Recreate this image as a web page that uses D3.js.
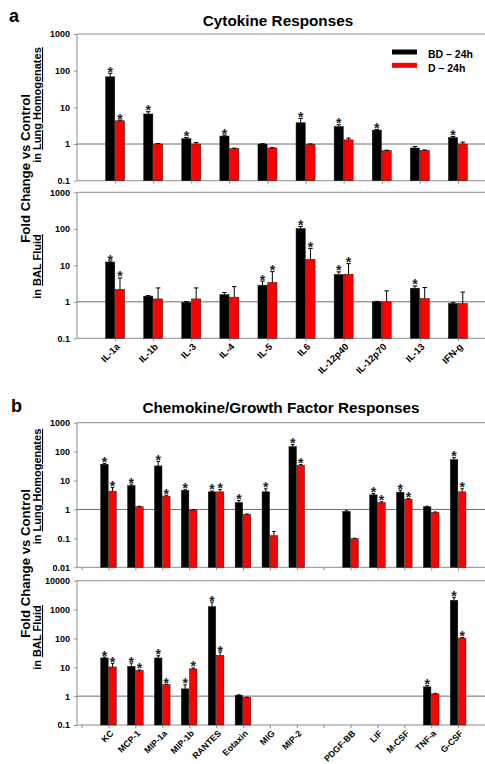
<!DOCTYPE html>
<html>
<head>
<meta charset="utf-8">
<script src="https://cdn.jsdelivr.net/npm/d3@7"></script>
<style>
  body { margin: 0; background: #fff; }
  svg { font-family: "Liberation Sans", Arial, sans-serif; }
</style>
</head>
<body>
<svg id="fig" width="485" height="764"></svg>
<script>
// %%%%%%%%%%%%%%%%%%%%
// % Data             %
// %%%%%%%%%%%%%%%%%%%%

var legendLabels = ["BD \u2013 24h", "D \u2013 24h"];

// panel a : cytokines
var cytokines = ["IL-1a", "IL-1b", "IL-3", "IL-4", "IL-5", "IL6", "IL-12p40", "IL-12p70", "IL-13", "IFN-g"];
var cytoLungBD    = [68, 6.6, 1.4, 1.65, 1.0, 3.8, 3.0, 2.4, 0.78, 1.5];
var cytoLungBDse  = [17, 1.0, 0.1, 0.1, 0.02, 1.2, 0.35, 0.1, 0.07, 0.1];
var cytoLungD     = [4.3, 1.0, 1.0, 0.75, 0.78, 0.98, 1.3, 0.66, 0.67, 1.0];
var cytoLungDse   = [0.2, 0.03, 0.1, 0.02, 0.02, 0.03, 0.15, 0.02, 0.02, 0.13];
var cytoLungBDsig = [1, 1, 1, 1, 0, 1, 1, 1, 0, 1];
var cytoLungDsig  = [1, 0, 0, 0, 0, 0, 0, 0, 0, 0];

var cytoBalBD    = [12.3, 1.43, 0.97, 1.58, 2.85, 102, 5.6, 1.0, 2.36, 0.9];
var cytoBalBDse  = [0.8, 0.05, 0.05, 0.22, 0.85, 14, 1.0, 0.03, 0.35, 0.05];
var cytoBalD     = [2.2, 1.2, 1.2, 1.34, 3.4, 14.6, 5.7, 1.0, 1.23, 0.9];
var cytoBalDse   = [2.3, 1.2, 1.2, 1.26, 3.3, 14.4, 5.4, 1.0, 1.23, 0.94];
var cytoBalBDsig = [1, 0, 0, 0, 1, 1, 1, 0, 1, 0];
var cytoBalDsig  = [1, 0, 0, 0, 1, 1, 1, 0, 0, 0];

// panel b : chemokines / growth factors ("" = empty slot on the axis)
var chemokines = ["KC", "MCP-1", "MIP-1a", "MIP-1b", "RANTES", "Eotaxin", "MIG", "MIP-2", "", "PDGF-BB", "LIF", "M-CSF", "TNF-a", "G-CSF"];
var chemoLungBD    = [36.6, 6.7, 32, 4.6, 4.07, 1.74, 4.07, 148, null, 0.85, 3.2, 3.96, 1.24, 53];
var chemoLungBDse  = [2, 0.8, 14, 0.2, 0.3, 0.3, 1.1, 26, null, 0.05, 0.35, 0.65, 0.05, 9];
var chemoLungD     = [4.3, 1.24, 2.9, 0.95, 4.07, 0.67, 0.124, 33.8, null, 0.098, 1.74, 2.27, 0.79, 4.07];
var chemoLungDse   = [1.4, 0.05, 0.2, 0.03, 0.8, 0.03, 0.05, 2, null, 0.003, 0.1, 0.1, 0.03, 1.1];
var chemoLungBDsig = [1, 1, 1, 1, 1, 1, 1, 1, 0, 0, 1, 1, 0, 1];
var chemoLungDsig  = [1, 0, 1, 0, 1, 0, 0, 1, 0, 0, 1, 1, 0, 1];

var chemoBalBD    = [21, 10.8, 21, 1.79, 1260, 1.08, null, null, null, null, null, null, 2.1, 2100];
var chemoBalBDse  = [1.5, 3.2, 4, 0.67, 560, 0.03, null, null, null, null, null, null, 0.25, 550];
var chemoBalD     = [10.3, 7.7, 2.5, 8.8, 25.9, 0.9, null, null, null, null, null, null, 1.2, 103];
var chemoBalDse   = [3.4, 0.4, 0.1, 0.7, 7.8, 0.02, null, null, null, null, null, null, 0.05, 4];
var chemoBalBDsig = [1, 1, 1, 1, 1, 0, 0, 0, 0, 0, 0, 0, 1, 1];
var chemoBalDsig  = [1, 1, 1, 1, 1, 0, 0, 0, 0, 0, 0, 0, 0, 1];

// %%%%%%%%%%%%%%%%%%%%
// % Setup            %
// %%%%%%%%%%%%%%%%%%%%

var svg = d3.select("#fig");
var width = +svg.attr("width");
var frameGrey = "#8d8d8d";
var colors = ["#000000", "#ff0000"];

function drawPanel(cfg) {
    var g = svg.append("g");
    var x = cfg.x, y = cfg.y;
    var yBot = y.range()[0], yTop = y.range()[1];

    // frame: top, bottom, left
    g.append("line").attr("x1", cfg.axisX).attr("x2", width).attr("y1", yTop).attr("y2", yTop)
        .attr("stroke", frameGrey);
    g.append("line").attr("x1", cfg.axisX).attr("x2", width).attr("y1", yBot).attr("y2", yBot)
        .attr("stroke", frameGrey);
    g.append("line").attr("x1", cfg.axisX).attr("x2", cfg.axisX).attr("y1", yTop).attr("y2", yBot)
        .attr("stroke", frameGrey);

    // y axis
    var yAxis = g.append("g")
        .attr("transform", "translate(" + cfg.axisX + ",0)")
        .call(d3.axisLeft(y).tickValues(cfg.yTicks).tickFormat(d3.format("~g")).tickSize(3).tickPadding(4));
    yAxis.select(".domain").remove();
    yAxis.selectAll("line").attr("stroke", frameGrey);
    yAxis.attr("font-family", null).attr("font-size", 9).attr("font-weight", "bold");

    // x ticks (and labels for the lower panel)
    var xAxis = g.append("g")
        .attr("transform", "translate(0," + yBot + ")")
        .call(d3.axisBottom(x)
            .tickValues(cfg.slots)
            .tickSize(3)
            .tickFormat(function (s) { return cfg.showLabels ? (cfg.cats[s - cfg.first] || "") : ""; }));
    xAxis.select(".domain").remove();
    xAxis.selectAll("line").attr("stroke", frameGrey);
    xAxis.attr("font-family", null).attr("font-size", cfg.labelSize).attr("font-weight", "bold");
    xAxis.selectAll("text")
        .attr("x", 0).attr("y", 0).attr("dy", 0)
        .attr("transform", "translate(5,9) rotate(-45)")
        .style("text-anchor", "end");

    // reference line at 1
    g.append("line").attr("x1", cfg.axisX).attr("x2", width).attr("y1", y(1)).attr("y2", y(1))
        .attr("stroke", "#6e6e6e");

    // bars, error bars, stars
    cfg.series.forEach(function (s, k) {
        var rows = cfg.cats.map(function (c, i) {
            return { slot: i + cfg.first, v: s.vals[i], se: s.se[i], sig: s.sig[i] };
        }).filter(function (r) { return r.v != null; });
        var off = k === 0 ? -cfg.barW - 0.3 : 0.3;
        var bars = g.append("g");
        bars.selectAll("rect").data(rows).enter().append("rect")
            .attr("x", function (r) { return x(r.slot) + off; })
            .attr("width", cfg.barW)
            .attr("y", function (r) { return y(r.v); })
            .attr("height", function (r) { return yBot - y(r.v); })
            .attr("fill", colors[k])
            .attr("stroke", "#1a1a1a")
            .attr("stroke-width", 0.5);
        var cx = function (r) { return x(r.slot) + off + cfg.barW / 2; };
        var top = function (r) { return y(r.v + r.se); };
        bars.selectAll(".err").data(rows).enter().append("line")
            .attr("x1", cx).attr("x2", cx)
            .attr("y1", function (r) { return y(r.v); }).attr("y2", top)
            .attr("stroke", "#000").attr("stroke-width", 1);
        bars.selectAll(".cap").data(rows).enter().append("line")
            .attr("x1", function (r) { return cx(r) - cfg.capW / 2; })
            .attr("x2", function (r) { return cx(r) + cfg.capW / 2; })
            .attr("y1", top).attr("y2", top)
            .attr("stroke", "#000").attr("stroke-width", 1);
        bars.selectAll(".star").data(rows.filter(function (r) { return r.sig; })).enter().append("text")
            .attr("x", cx)
            .attr("y", function (r) { return top(r) + 3.5; })
            .attr("text-anchor", "middle")
            .attr("font-size", 14)
            .attr("font-weight", "bold")
            .attr("fill", "#222")
            .text("*");
    });
    return g;
}

function series(bd, bdSe, bdSig, d, dSe, dSig) {
    return [{ vals: bd, se: bdSe, sig: bdSig }, { vals: d, se: dSe, sig: dSig }];
}

// %%%%%%%%%%%%%%%%%%%%
// % Panel a          %
// %%%%%%%%%%%%%%%%%%%%

var xA = d3.scaleLinear().domain([0, 11]).range([77, 496]);
var slotsA = d3.range(1, cytokines.length + 1);

drawPanel({
    x: xA, y: d3.scaleLog().domain([0.1, 1000]).range([180.7, 34]),
    axisX: 77, yTicks: [0.1, 1, 10, 100, 1000], cats: cytokines, first: 1, slots: slotsA,
    showLabels: false, labelSize: 9.5, barW: 9.2, capW: 4.5,
    series: series(cytoLungBD, cytoLungBDse, cytoLungBDsig, cytoLungD, cytoLungDse, cytoLungDsig)
});
drawPanel({
    x: xA, y: d3.scaleLog().domain([0.1, 1000]).range([338.3, 192.3]),
    axisX: 77, yTicks: [0.1, 1, 10, 100, 1000], cats: cytokines, first: 1, slots: slotsA,
    showLabels: true, labelSize: 9.5, barW: 9.2, capW: 4.5,
    series: series(cytoBalBD, cytoBalBDse, cytoBalBDsig, cytoBalD, cytoBalDse, cytoBalDsig)
});

// %%%%%%%%%%%%%%%%%%%%
// % Panel b          %
// %%%%%%%%%%%%%%%%%%%%

var xB = d3.scaleLinear().domain([0, 15]).range([81.6, 485]);
var slotsB = d3.range(0, chemokines.length + 1);

drawPanel({
    x: xB, y: d3.scaleLog().domain([0.01, 1000]).range([567.3, 422.7]),
    axisX: 77, yTicks: [0.01, 0.1, 1, 10, 100, 1000], cats: chemokines, first: 1, slots: slotsB,
    showLabels: false, labelSize: 8.8, barW: 7.5, capW: 3.5,
    series: series(chemoLungBD, chemoLungBDse, chemoLungBDsig, chemoLungD, chemoLungDse, chemoLungDsig)
});
drawPanel({
    x: xB, y: d3.scaleLog().domain([0.1, 10000]).range([725, 580.7]),
    axisX: 77, yTicks: [0.1, 1, 10, 100, 1000, 10000], cats: chemokines, first: 1, slots: slotsB,
    showLabels: true, labelSize: 8.8, barW: 7.5, capW: 3.5,
    series: series(chemoBalBD, chemoBalBDse, chemoBalBDsig, chemoBalD, chemoBalDse, chemoBalDsig)
});

// %%%%%%%%%%%%%%%%%%%%
// % Titles & labels  %
// %%%%%%%%%%%%%%%%%%%%

function title(txt, x, y) {
    svg.append("text").attr("x", x).attr("y", y).attr("text-anchor", "middle")
        .attr("font-size", 15.3).attr("font-weight", "bold").text(txt);
}
function panelLetter(txt, x, y) {
    svg.append("text").attr("x", x).attr("y", y)
        .attr("font-size", 18).attr("font-weight", "bold").text(txt);
}
function yLabel(x, y) {
    svg.append("text").attr("transform", "translate(" + x + "," + y + ") rotate(-90)")
        .attr("text-anchor", "middle").attr("font-size", 13.2).attr("font-weight", "bold")
        .text("Fold Change vs Control");
}
function subLabel(pre, under, x, y) {
    var t = svg.append("text").attr("transform", "translate(" + x + "," + y + ") rotate(-90)")
        .attr("text-anchor", "middle").attr("font-size", 11).attr("font-weight", "bold");
    t.append("tspan").text(pre + " ");
    t.append("tspan").style("text-decoration", "underline").text(under);
}

panelLetter("a", 9, 22);
title("Cytokine Responses", 278, 26);
panelLetter("b", 11, 412);
title("Chemokine/Growth Factor Responses", 281, 413);

yLabel(29.5, 168.5);
subLabel("in", "Lung Homogenates", 41, 105);
subLabel("in", "BAL Fluid", 41, 266.5);
yLabel(29.5, 563.5);
subLabel("in", "Lung Homogenates", 41, 486.5);
subLabel("in", "BAL Fluid", 41, 637.5);

// legend
var legend = svg.append("g").attr("transform", "translate(392,0)");
legendLabels.forEach(function (lab, i) {
    legend.append("rect").attr("x", 0).attr("y", 49.5 + i * 13.3).attr("width", 25).attr("height", 5)
        .attr("fill", colors[i]);
    legend.append("text").attr("x", 36).attr("y", 57.5 + i * 14.5)
        .attr("font-size", 10.5).attr("font-weight", "bold").text(lab);
});
</script>
</body>
</html>
